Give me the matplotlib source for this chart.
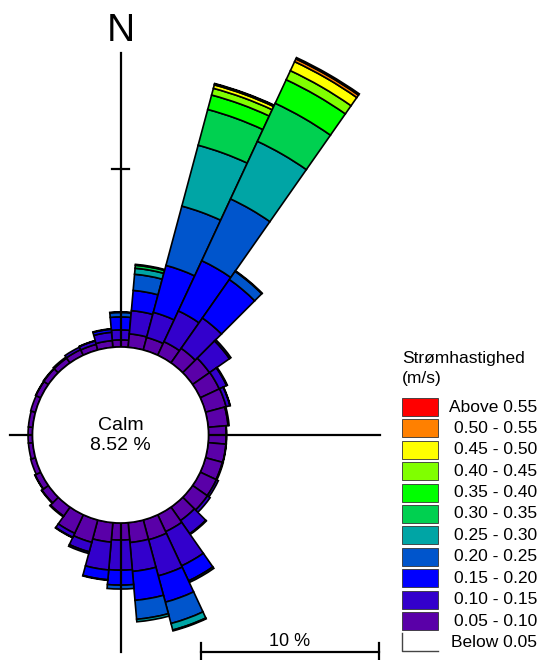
import matplotlib
matplotlib.use("Agg")
import matplotlib.pyplot as plt
from matplotlib.patches import Wedge, Circle, Rectangle

plt.rcParams['font.family'] = ['Liberation Sans', 'DejaVu Sans']

# direction of each sector (degrees from north, clockwise), 10 deg wide
directions = list(range(0, 360, 10))

# frequency (%) per speed class and direction
s05_10 = [0.40, 0.76, 0.73, 0.84, 1.00, 1.16, 1.18, 1.20, 1.12, 1.00, 1.00, 0.98,
          1.00, 1.02, 0.93, 1.05, 1.15, 1.12, 0.96, 1.10, 1.30, 1.15, 0.62, 0.45,
          0.35, 0.28, 0.25, 0.25, 0.25, 0.28, 0.30, 0.32, 0.33, 0.35, 0.33, 0.38]
s10_15 = [0.56, 1.31, 1.46, 1.91, 2.08, 1.37, 0.45, 0.22, 0.06, 0.02, 0.02, 0.05,
          0.12, 0.18, 0.90, 2.12, 2.10, 1.63, 1.69, 1.57, 0.55, 0.25, 0.05, 0.03,
          0.02, 0.00, 0.00, 0.00, 0.00, 0.00, 0.02, 0.03, 0.07, 0.15, 0.20, 0.47]
s15_20 = [0.73, 1.14, 2.73, 3.11, 2.64, 0.10, 0.05, 0.02, 0.00, 0.00, 0.00, 0.00,
          0.00, 0.00, 0.05, 0.93, 1.53, 1.63, 0.84, 0.55, 0.10, 0.03, 0.00, 0.00,
          0.00, 0.00, 0.00, 0.00, 0.00, 0.00, 0.00, 0.00, 0.00, 0.00, 0.02, 0.17]
s20_25 = [0.25, 0.91, 3.45, 3.83, 0.56, 0.00, 0.00, 0.00, 0.00, 0.00, 0.00, 0.00,
          0.00, 0.00, 0.00, 0.10, 1.24, 1.07, 0.22, 0.03, 0.00, 0.00, 0.00, 0.00,
          0.00, 0.00, 0.00, 0.00, 0.00, 0.00, 0.00, 0.00, 0.00, 0.00, 0.00, 0.03]
s25_30 = [0.03, 0.34, 3.54, 3.57, 0.04, 0.00, 0.00, 0.00, 0.00, 0.00, 0.00, 0.00,
          0.00, 0.00, 0.00, 0.00, 0.38, 0.14, 0.00, 0.00, 0.00, 0.00, 0.00, 0.00,
          0.00, 0.00, 0.00, 0.00, 0.00, 0.00, 0.00, 0.00, 0.00, 0.00, 0.00, 0.00]
s30_35 = [0.00, 0.17, 2.08, 2.36] + [0.00] * 12 + [0.05] + [0.00] * 19
s35_40 = [0.00, 0.05, 0.84, 1.46] + [0.00] * 32
s40_45 = [0.00, 0.00, 0.39, 0.56] + [0.00] * 32
s45_50 = [0.00, 0.00, 0.20, 0.56] + [0.00] * 32
s50_55 = [0.00, 0.00, 0.05, 0.17] + [0.00] * 32
s55_up = [0.00, 0.00, 0.03, 0.08] + [0.00] * 32

classes = [s05_10, s10_15, s15_20, s20_25, s25_30, s30_35,
           s35_40, s40_45, s45_50, s50_55, s55_up]
class_colors = ['#5a00a8', '#3300cc', '#0000ff', '#0055cc', '#00a5a5', '#00d050',
                '#00ff00', '#80ff00', '#ffff00', '#ff8000', '#ff0000']
legend_labels = ['Above 0.55', '0.50 - 0.55', '0.45 - 0.50', '0.40 - 0.45',
                 '0.35 - 0.40', '0.30 - 0.35', '0.25 - 0.30', '0.20 - 0.25',
                 '0.15 - 0.20', '0.10 - 0.15', '0.05 - 0.10', 'Below 0.05']
calm_pct = 8.52

# layout: 1 % of frequency = S pixels, rose centre at pixel (CX, CY)
W, H = 539, 660
S = 17.8
CX, CY = 120.5, 435
R0 = 88 / S  # radius of calm circle


def px(x, y):
    return (x - CX) / S, (CY - y) / S


fig = plt.figure(figsize=(W / 100, H / 100), dpi=100)
ax = fig.add_axes([0, 0, 1, 1])
ax.set_xlim(-CX / S, (W - CX) / S)
ax.set_ylim(-(H - CY) / S, CY / S)
ax.axis('off')

# stacked sectors
for i, d in enumerate(directions):
    base = R0
    t1 = 90 - d - 5
    t2 = 90 - d + 5
    for vals, col in zip(classes, class_colors):
        v = vals[i]
        if v <= 0:
            continue
        ax.add_patch(Wedge((0, 0), base + v, t1, t2, width=v, facecolor=col,
                           edgecolor='black', linewidth=1.2, zorder=2))
        base += v

# axis cross
x0, y0 = px(CX, 53)
x1, y1 = px(CX, 652)
ax.plot([0, 0], [y1, y0], color='black', lw=1.6, zorder=3)
xa, _ = px(10, CY)
xb, _ = px(380, CY)
ax.plot([xa, xb], [0, 0], color='black', lw=1.6, zorder=3)
tick = 8.5 / S
ax.plot([-tick, tick], [R0 + 10, R0 + 10], color='black', lw=1.6, zorder=3)

# calm circle
ax.add_patch(Circle((0, 0), R0, facecolor='white', edgecolor='black', lw=1.2, zorder=4))
ax.text(*px(120.5, 425), 'Calm', ha='center', va='center', fontsize=14, zorder=5)
ax.text(*px(120, 446), f'{calm_pct:.2f} %', ha='center', va='center', fontsize=14, zorder=5)

ax.text(*px(121, 31), 'N', ha='center', va='center', fontsize=28)

# scale bar
sx0, sy = px(200.7, 652)
sx1 = sx0 + 10
ax.plot([sx0, sx1], [sy, sy], color='black', lw=1.6)
for sx in (sx0, sx1):
    ax.plot([sx, sx], [px(0, 643)[1], px(0, 661)[1]], color='black', lw=1.6)
ax.text((sx0 + sx1) / 2, px(0, 641)[1], '10 %', ha='center', va='center', fontsize=13)

# legend
ax.text(*px(402, 358), 'Strømhastighed', ha='left', va='center', fontsize=12.5)
ax.text(*px(402, 379), '(m/s)', ha='left', va='center', fontsize=12.5)
legend_colors = class_colors[::-1] + ['white']
for k, (lab, col) in enumerate(zip(legend_labels, legend_colors)):
    yc = 407 + 21.4 * k
    lx, ly = px(402, yc + 9)
    if col == 'white':
        ax.plot([lx, lx, lx + 36 / S], [ly + 18 / S, ly, ly], color='#444444', lw=1.0)
    else:
        ax.add_patch(Rectangle((lx, ly), 36 / S, 18 / S, facecolor=col,
                               edgecolor='#333333', lw=0.6))
    ax.text(*px(537, yc), lab, ha='right', va='center', fontsize=12.5)

fig.savefig('out.png', dpi=100)
